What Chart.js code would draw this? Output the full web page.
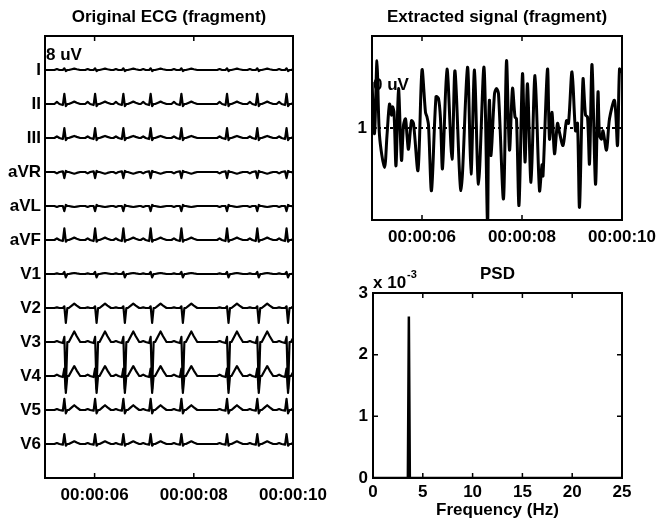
<!DOCTYPE html>
<html>
<head>
<meta charset="utf-8">
<script src="https://cdn.jsdelivr.net/npm/chart.js@4.4.0/dist/chart.umd.min.js"></script>
<style>
html, body { margin: 0; padding: 0; background: #fff; }
#wrap { position: relative; width: 657px; height: 521px; overflow: hidden; }
canvas { position: absolute; }
</style>
</head>
<body>
<div id="wrap">
  <canvas id="ecg" width="330" height="521" style="left:0;top:0;width:330px;height:521px"></canvas>
  <canvas id="sig" width="327" height="250" style="left:330px;top:0;width:327px;height:250px"></canvas>
  <canvas id="psd" width="327" height="271" style="left:330px;top:250px;width:327px;height:271px"></canvas>
</div>
<script>
// ---- data ----
var leadNames = ['I', 'II', 'III', 'aVR', 'aVL', 'aVF', 'V1', 'V2', 'V3', 'V4', 'V5', 'V6'];
var beatTimes = [5.39, 6.01, 6.58, 7.13, 7.75, 8.67, 9.28, 9.87];   // R peaks (s)
// wave points relative to the R peak (s)
// P start, P, P end, Q, R, S, J, T start, T up, T, T down, T end
var waveOffsets = [-0.20, -0.15, -0.10, -0.03, 0, 0.03, 0.06, 0.09, 0.15, 0.20, 0.25, 0.32];
var tShape = [0, 0.55, 1, 0.55, 0];
// amplitudes per lead (in lead spacings)
var pAmp = [0.03, 0.06, 0.05, -0.04, -0.03, 0.05, 0.02, 0.02, 0.03, 0.04, 0.03, 0.03];
var qAmp = [0.00, -0.03, -0.03, 0.02, 0.00, -0.03, 0.00, 0.00, -0.03, -0.03, -0.02, -0.02];
var rAmp = [0.05, 0.30, 0.29, -0.18, -0.15, 0.34, 0.06, 0.05, 0.15, 0.22, 0.33, 0.29];
var sAmp = [-0.03, -0.06, -0.06, 0.03, 0.03, -0.05, -0.10, -0.44, -1.38, -0.50, -0.10, -0.05];
var tAmp = [0.04, 0.07, 0.06, -0.05, -0.03, 0.07, 0.03, 0.13, 0.31, 0.29, 0.14, 0.08];

var sigTime = [5.00, 5.05, 5.10, 5.15, 5.25, 5.30, 5.35, 5.39, 5.41, 5.44, 5.48, 5.53, 5.59, 5.63, 5.67,
  5.70, 5.73, 5.79, 5.83, 5.92, 6.00, 6.07, 6.10, 6.13, 6.19, 6.28, 6.33, 6.37, 6.41, 6.50, 6.60, 6.66,
  6.78, 6.91, 6.98, 7.05, 7.13, 7.24, 7.31, 7.33, 7.35, 7.38, 7.45, 7.49, 7.53, 7.63, 7.69, 7.75, 7.81,
  7.86, 7.89, 7.94, 8.01, 8.06, 8.11, 8.18, 8.26, 8.35, 8.40, 8.42, 8.51, 8.55, 8.60, 8.65, 8.71, 8.75,
  8.82, 8.89, 8.93, 9.00, 9.07, 9.11, 9.15, 9.22, 9.27, 9.31, 9.35, 9.40, 9.47, 9.52, 9.55, 9.59, 9.62,
  9.69, 9.75, 9.85, 9.91, 9.95, 9.99];
var sigValue = [1.50, 0.94, 1.73, 0.92, 0.57, 0.92, 1.26, 1.14, 1.23, 1.17, 0.59, 1.43, 0.65, 1.03, 1.10,
  0.92, 0.77, 1.08, 1.05, 0.54, 1.63, 1.17, 1.12, 1.03, 0.32, 1.34, 1.32, 1.10, 0.56, 1.64, 0.66, 1.62,
  0.32, 1.66, 0.50, 1.63, 0.39, 1.66, -0.05, 0.99, 1.30, 0.70, 1.37, 1.43, 1.37, 0.23, 1.73, 0.76, 1.43,
  1.12, 1.10, 0.16, 1.59, 0.63, 1.48, 0.41, 1.57, 0.32, 0.60, 0.48, 1.64, 0.88, 1.17, 0.72, 1.05, 0.95,
  0.81, 1.08, 1.05, 1.61, 0.97, 1.05, 0.14, 1.53, 1.14, 1.12, 0.61, 1.69, 0.39, 1.39, 0.92, 0.88, 0.97,
  0.76, 1.10, 1.30, 0.81, 1.64, 1.60];

var freqHz = [0, 3.5, 3.6, 3.7, 25];
var psdValue = [0, 0, 2.62, 0, 0];   // x 10^-3

var timeTicks = [6, 8, 10];
var timeLabels = ['00:00:06', '00:00:08', '00:00:10'];
var freqTicks = [0, 5, 10, 15, 20, 25];
var psdTicks = [0, 1, 2, 3];

// ---- common look ----
var FONT = "'Liberation Sans', Arial, Helvetica, sans-serif";
Chart.defaults.font.family = FONT;
Chart.defaults.font.size = 17;
Chart.defaults.font.weight = 'bold';
Chart.defaults.color = '#000';

// box around the axes and inner tick marks, matlab style
var framePlugin = {
  id: 'frame',
  afterDraw: function (chart, args, opts) {
    var a = chart.chartArea, c = chart.ctx;
    var xs = chart.scales.x, ys = chart.scales.y;
    c.save();
    c.strokeStyle = '#000';
    c.lineWidth = 1.5;
    c.beginPath();
    xs.ticks.forEach(function (t) {
      var px = xs.getPixelForValue(t.value);
      c.moveTo(px, a.bottom); c.lineTo(px, a.bottom - 5);
      c.moveTo(px, a.top); c.lineTo(px, a.top + 5);
    });
    if (opts.yTicks) {
      ys.ticks.forEach(function (t) {
        var py = ys.getPixelForValue(t.value);
        c.moveTo(a.left, py); c.lineTo(a.left + 5, py);
        c.moveTo(a.right, py); c.lineTo(a.right - 5, py);
      });
    }
    c.stroke();
    c.lineWidth = 2;
    c.strokeRect(a.left, a.top, a.right - a.left, a.bottom - a.top);
    c.restore();
  }
};

var notePlugin = {
  id: 'note',
  beforeDatasetsDraw: function (chart, args, opts) {
    if (!opts.text) return;
    var a = chart.chartArea, c = chart.ctx;
    c.save();
    c.fillStyle = '#000';
    c.font = 'bold 17px ' + FONT;
    c.textBaseline = 'alphabetic';
    c.fillText(opts.text, a.left + opts.dx, a.top + opts.dy);
    if (opts.sup) {
      var w = c.measureText(opts.text).width;
      c.font = 'bold 11px ' + FONT;
      c.fillText(opts.sup, a.left + opts.dx + w + 1, a.top + opts.dy - 10);
    }
    c.restore();
  }
};

function fixedTicks(list) {
  return function (scale) {
    scale.ticks = list.map(function (v) { return { value: v }; });
  };
}

// let labels hang into the layout padding instead of shrinking the plot
function fitBox(w, h) {
  return function (s) {
    if (w !== null) s.width = w;
    if (h !== null) s.height = h;
    s.paddingLeft = 0; s.paddingRight = 0; s.paddingTop = 0; s.paddingBottom = 0;
  };
}

function leadPoints(i) {
  var shape = [0, pAmp[i], 0, qAmp[i], rAmp[i], sAmp[i], 0].concat(
    tShape.map(function (f) { return f * tAmp[i]; }));
  var base = 12 - i;
  var pts = [{ x: 5, y: base }];
  beatTimes.forEach(function (bt) {
    waveOffsets.forEach(function (off, k) {
      pts.push({ x: bt + off, y: base + shape[k] });
    });
  });
  return pts;
}

function timeAxis(h) {
  return {
    type: 'linear', min: 5, max: 10,
    afterBuildTicks: fixedTicks(timeTicks),
    afterFit: fitBox(null, h),
    ticks: { autoSkip: false, maxRotation: 0, padding: 7,
      callback: function (v, i) { return timeLabels[i]; } },
    grid: { display: false, drawTicks: false },
    border: { display: false }
  };
}

// ---- original ECG ----
new Chart(document.getElementById('ecg'), {
  type: 'line',
  data: {
    datasets: leadNames.map(function (name, i) {
      return { label: name, data: leadPoints(i), borderColor: '#000', borderWidth: 2.2,
        pointRadius: 0, tension: 0, borderJoinStyle: 'round' };
    })
  },
  options: {
    responsive: false, animation: false, events: [],
    layout: { padding: { left: 0, right: 37, top: 0, bottom: 0 } },
    scales: {
      x: timeAxis(43),
      y: {
        type: 'linear', min: 0, max: 13,
        afterBuildTicks: fixedTicks(leadNames.map(function (n, i) { return 12 - i; })),
        afterFit: fitBox(45, null),
        ticks: { padding: 4, callback: function (v) { return leadNames[12 - v]; } },
        grid: { display: false, drawTicks: false },
        border: { display: false }
      }
    },
    plugins: {
      legend: { display: false }, tooltip: { enabled: false },
      title: { display: true, text: 'Original ECG (fragment)', fullSize: false,
        font: { size: 17, weight: 'bold' }, padding: { top: 7.5, bottom: 8.1 } },
      frame: { yTicks: false },
      note: { text: '8 uV', dx: 1, dy: 24 }
    }
  },
  plugins: [framePlugin, notePlugin]
});

// ---- extracted signal ----
new Chart(document.getElementById('sig'), {
  type: 'line',
  data: {
    datasets: [
      { label: 'signal', data: sigTime.map(function (t, i) { return { x: t, y: sigValue[i] }; }),
        borderColor: '#000', borderWidth: 3, pointRadius: 0, tension: 0.3, borderJoinStyle: 'round' },
      { label: 'level', data: [{ x: 5, y: 1 }, { x: 10, y: 1 }], borderColor: '#000',
        borderWidth: 2, borderDash: [3, 3], pointRadius: 0 }
    ]
  },
  options: {
    responsive: false, animation: false, events: [],
    layout: { padding: { left: 0, right: 35, top: 0, bottom: 0 } },
    scales: {
      x: timeAxis(30),
      y: {
        type: 'linear', min: 0, max: 2,
        afterBuildTicks: fixedTicks([1]),
        afterFit: fitBox(42, null),
        ticks: { padding: 5 },
        grid: { display: false, drawTicks: false },
        border: { display: false }
      }
    },
    plugins: {
      legend: { display: false }, tooltip: { enabled: false },
      title: { display: true, text: 'Extracted signal (fragment)', fullSize: false,
        font: { size: 17, weight: 'bold' }, padding: { top: 7.5, bottom: 8.1 } },
      frame: { yTicks: true },
      note: { text: '0 uV', dx: 1, dy: 54 }
    }
  },
  plugins: [framePlugin, notePlugin]
});

// ---- PSD ----
new Chart(document.getElementById('psd'), {
  type: 'line',
  data: {
    datasets: [
      { label: 'PSD', data: freqHz.map(function (f, i) { return { x: f, y: psdValue[i] }; }),
        borderColor: '#000', borderWidth: 2.5, pointRadius: 0, tension: 0 }
    ]
  },
  options: {
    responsive: false, animation: false, events: [],
    layout: { padding: { left: 0, right: 35, top: 0, bottom: 0 } },
    scales: {
      x: {
        type: 'linear', min: 0, max: 25,
        afterBuildTicks: fixedTicks(freqTicks),
        afterFit: fitBox(null, 43),
        ticks: { autoSkip: false, maxRotation: 0, padding: 4 },
        title: { display: true, text: 'Frequency (Hz)', font: { size: 17, weight: 'bold' },
          padding: { top: 0, bottom: 0 } },
        grid: { display: false, drawTicks: false },
        border: { display: false }
      },
      y: {
        type: 'linear', min: 0, max: 3,
        afterBuildTicks: fixedTicks(psdTicks),
        afterFit: fitBox(43, null),
        ticks: { padding: 5 },
        grid: { display: false, drawTicks: false },
        border: { display: false }
      }
    },
    plugins: {
      legend: { display: false }, tooltip: { enabled: false },
      title: { display: true, text: 'PSD', fullSize: false,
        font: { size: 17, weight: 'bold' }, padding: { top: 13.8, bottom: 8.8 } },
      frame: { yTicks: true },
      note: { text: 'x 10', dx: 0, dy: -5, sup: '-3' }
    }
  },
  plugins: [framePlugin, notePlugin]
});
</script>
</body>
</html>
